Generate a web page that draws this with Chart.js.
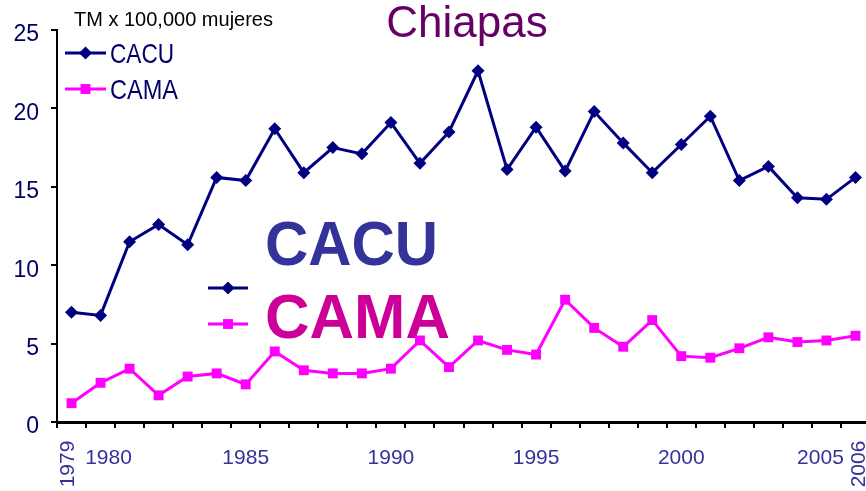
<!DOCTYPE html>
<html>
<head>
<meta charset="utf-8">
<script src="https://cdn.jsdelivr.net/npm/chart.js@4/dist/chart.umd.min.js"></script>
<style>
    html, body { margin: 0; padding: 0; background: #fff; overflow: hidden; }
    /* plot runs a few px past the right edge of the window, as in the original */
    #chart { display: block; }
</style>
</head>
<body>
<canvas id="chart" width="870" height="491"></canvas>
<script>
// data
const years = [
    "1979", "1980", "1981", "1982", "1983", "1984", "1985", "1986", "1987", "1988",
    "1989", "1990", "1991", "1992", "1993", "1994", "1995", "1996", "1997", "1998",
    "1999", "2000", "2001", "2002", "2003", "2004", "2005", "2006",
];
const cacu = [
    7.0, 6.8, 11.5, 12.6, 11.3, 15.6, 15.4, 18.7, 15.9, 17.5,
    17.1, 19.1, 16.5, 18.5, 22.4, 16.1, 18.8, 16.0, 19.8, 17.8,
    15.9, 17.7, 19.5, 15.4, 16.3, 14.3, 14.2, 15.6,
];
const cama = [
    1.2, 2.5, 3.4, 1.7, 2.9, 3.1, 2.4, 4.5, 3.3, 3.1,
    3.1, 3.4, 5.2, 3.5, 5.2, 4.6, 4.3, 7.8, 6.0, 4.8,
    6.5, 4.2, 4.1, 4.7, 5.4, 5.1, 5.2, 5.5,
];
const shownYears = ["1979", "1980", "1985", "1990", "1995", "2000", "2005", "2006"];
const yTicks = [0, 5, 10, 15, 20, 25];

const CACU_COLOR = "#000080";
const CAMA_COLOR = "#ff00ff";
const SANS = "'Liberation Sans', Arial, sans-serif";
const NARROW = "'Liberation Sans Narrow', 'Liberation Sans', Arial, sans-serif";

const drawMarker = (ctx, style, x, y, r, color) => {
    ctx.save();
    ctx.fillStyle = color;
    ctx.beginPath();
    if (style === "rectRot") {
        ctx.moveTo(x, y - r);
        ctx.lineTo(x + r, y);
        ctx.lineTo(x, y + r);
        ctx.lineTo(x - r, y);
        ctx.closePath();
    } else {
        const s = Math.SQRT1_2 * r;
        ctx.rect(x - s, y - s, 2 * s, 2 * s);
    }
    ctx.fill();
    ctx.restore();
};

const legendSample = (ctx, x1, x2, y, style, r, color) => {
    ctx.save();
    ctx.strokeStyle = color;
    ctx.lineWidth = 3;
    ctx.beginPath();
    ctx.moveTo(x1, y);
    ctx.lineTo(x2, y);
    ctx.stroke();
    ctx.restore();
    drawMarker(ctx, style, (x1 + x2) / 2, y, r, color);
};

// big "CACU / CAMA" box left over in the middle of the plot
const bigLegend = {
    id: "bigLegend",
    beforeDatasetsDraw(chart) {
        const ctx = chart.ctx;
        ctx.save();
        ctx.textAlign = "left";
        ctx.textBaseline = "alphabetic";
        ctx.font = "bold 63px " + SANS;
        ctx.fillStyle = "#333399";
        ctx.fillText("CACU", 265, 265, 173);
        ctx.fillStyle = "#cc0099";
        ctx.fillText("CAMA", 265, 338, 185);
        ctx.restore();
        legendSample(ctx, 208, 248, 288, "rectRot", 6.5, CACU_COLOR);
        legendSample(ctx, 208, 248, 324, "rect", 7, CAMA_COLOR);
    },
};

const decorations = {
    id: "decorations",
    afterDraw(chart) {
        const ctx = chart.ctx;
        ctx.save();
        ctx.textBaseline = "alphabetic";

        ctx.textAlign = "center";
        ctx.fillStyle = "#660066";
        ctx.font = "44px " + SANS;
        ctx.fillText("Chiapas", 467, 37);

        ctx.textAlign = "left";
        ctx.fillStyle = "#000000";
        ctx.font = "20px " + SANS;
        ctx.fillText("TM x 100,000 mujeres", 74, 26, 210);

        // legend top left
        ctx.fillStyle = "#000066";
        ctx.font = "28px " + NARROW;
        ctx.fillText("CACU", 110, 63, 64);
        ctx.fillText("CAMA", 110, 99, 68);
        ctx.restore();
        legendSample(ctx, 65, 106, 53, "rectRot", 6.5, CACU_COLOR);
        legendSample(ctx, 65, 106, 89, "rect", 7, CAMA_COLOR);

        // x labels: first and last standing up, the rest flat
        const xs = chart.scales.x;
        ctx.save();
        ctx.fillStyle = "#333399";
        ctx.font = "21px " + SANS;
        shownYears.forEach((yr, i) => {
            const px = xs.getPixelForValue(years.indexOf(yr));
            if (i === 0 || i === shownYears.length - 1) {
                const cx = i === 0 ? px - 3 : px + 4;
                ctx.save();
                ctx.translate(cx, 464);
                ctx.rotate(-Math.PI / 2);
                ctx.textAlign = "center";
                ctx.textBaseline = "middle";
                ctx.fillText(yr, 0, 0);
                ctx.restore();
            } else {
                let shift = 0;
                if (i === 1) shift = 8;
                if (i === shownYears.length - 2) shift = -6;
                ctx.textAlign = "center";
                ctx.textBaseline = "alphabetic";
                ctx.fillText(yr, px + shift, 464);
            }
        });
        ctx.restore();
    },
};

const myChart = new Chart(document.getElementById("chart").getContext("2d"), {
    type: "line",
    data: {
        labels: years,
        datasets: [
            {
                label: "CACU",
                data: cacu,
                borderColor: CACU_COLOR,
                backgroundColor: CACU_COLOR,
                borderWidth: 3,
                pointStyle: "rectRot",
                pointRadius: 6.5,
                pointHoverRadius: 6.5,
                pointBorderWidth: 0,
                tension: 0,
            },
            {
                label: "CAMA",
                data: cama,
                borderColor: CAMA_COLOR,
                backgroundColor: CAMA_COLOR,
                borderWidth: 3,
                pointStyle: "rect",
                pointRadius: 7,
                pointHoverRadius: 7,
                pointBorderWidth: 0,
                tension: 0,
            },
        ],
    },
    options: {
        responsive: false,
        maintainAspectRatio: false,
        animation: false,
        layout: { autoPadding: false, padding: { top: 30, right: 0, left: 0, bottom: 0 } },
        plugins: {
            legend: { display: false },
            tooltip: { enabled: false },
        },
        scales: {
            x: {
                type: "category",
                offset: true,
                afterFit: (scale) => { scale.height = 69; },
                grid: {
                    offset: true,
                    drawOnChartArea: false,
                    drawTicks: true,
                    tickLength: 6,
                    color: "#000",
                    lineWidth: 2,
                },
                border: { display: true, color: "#000", width: 3 },
                ticks: { display: false },
            },
            y: {
                min: 0,
                max: 25,
                afterFit: (scale) => { scale.width = 57; },
                afterBuildTicks: (scale) => {
                    scale.ticks = yTicks.map((v) => ({ value: v }));
                },
                grid: {
                    drawOnChartArea: false,
                    drawTicks: true,
                    tickLength: 6,
                    color: "#000",
                    lineWidth: 2,
                },
                border: { display: true, color: "#000", width: 2 },
                ticks: {
                    color: "#000066",
                    font: { family: SANS, size: 23 },
                    padding: 12,
                    labelOffset: 5,
                },
            },
        },
    },
    plugins: [bigLegend, decorations],
});
</script>
</body>
</html>
